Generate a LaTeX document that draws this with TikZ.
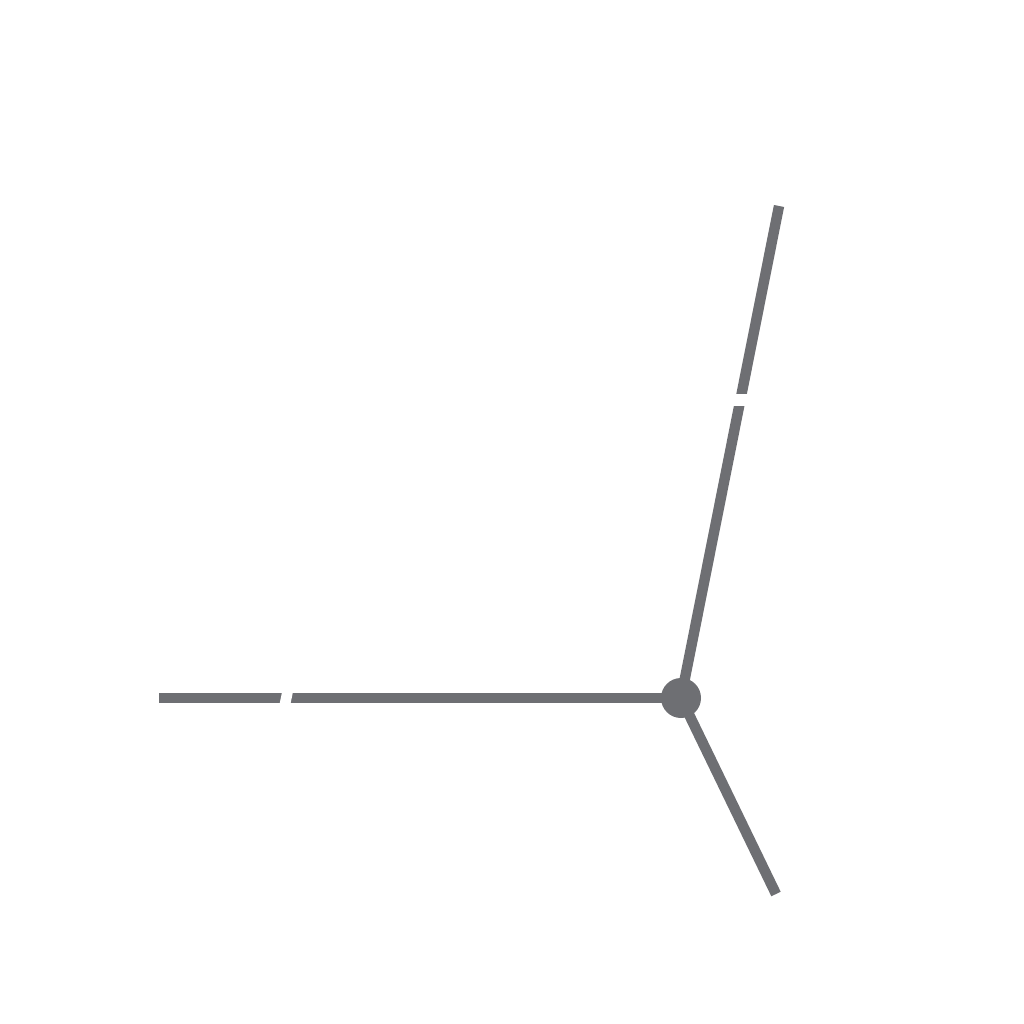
\documentclass[tikz,border=0pt]{standalone}
\usetikzlibrary{calc}
\definecolor{wire}{RGB}{110,111,115}
\tikzset{
  leg/.style = {draw=wire, line width=7.4pt},
  hub/.style = {fill=wire, circle, inner sep=0pt, minimum size=1cm},
  cut/.style = {fill=white},
}
\begin{document}
\begin{tikzpicture}[x=0.025cm, y=-0.025cm]
\useasboundingbox (0,0) rectangle (1024,1024);
\node[hub] (hb) at (681,698) {};
\coordinate (up) at (779,206);
\coordinate (lt) at (159,698);
\coordinate (dn) at (776,894);
\draw[leg] (hb.center) -- (up);
\draw[leg] (hb.center) -- (lt);
\draw[leg] (hb.center) -- (dn);
% breaks in the legs
\fill[cut] (715,394) rectangle (765,406);
\fill[cut] (283.3,686) -- (278.3,710) -- (289.2,710) -- (294.2,686) -- cycle;
\end{tikzpicture}
\end{document}
